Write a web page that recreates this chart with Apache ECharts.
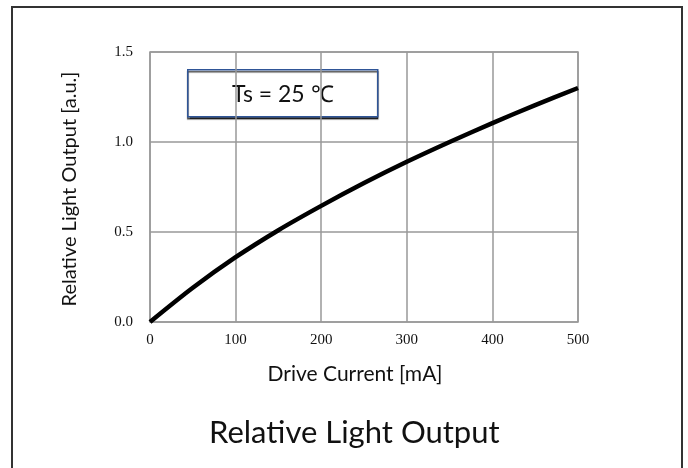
<!DOCTYPE html>
<html>
<head>
<meta charset="utf-8">
<script src="https://cdn.jsdelivr.net/npm/echarts@6/dist/echarts.min.js"></script>
<style>
html,body{margin:0;padding:0;background:#fff;}
#main{width:688px;height:468px;}
</style>
</head>
<body>
<div id="main"></div>
<script>
// Data
const driveCurrent = [0, 50, 100, 150, 200, 250, 300, 350, 400, 450, 500];
const relativeOutput = [0, 0.19, 0.36, 0.51, 0.645, 0.772, 0.89, 1.0, 1.105, 1.205, 1.30];
const xTicks = [0, 100, 200, 300, 400, 500];
const yTicks = [0.0, 0.5, 1.0, 1.5];
const chartTitle = 'Relative Light Output';
const xName = 'Drive Current [mA]';
const yName = 'Relative Light Output [a.u.]';
const annotation = 'Ts = 25 \u2103';

const points = driveCurrent.map((x, i) => [x, relativeOutput[i]]);
const sans = 'Lato, "Open Sans", sans-serif';
const serif = '"Liberation Serif", "DejaVu Serif", serif';

const chart = echarts.init(document.getElementById('main'));
chart.setOption({
  backgroundColor: '#fff',
  animation: false,
  title: {
    text: chartTitle,
    left: 204,
    top: 412,
    textStyle: { fontFamily: sans, fontSize: 31, fontWeight: 'normal', color: '#111' }
  },
  grid: { left: 150, right: 110, top: 52, bottom: 146, show: true, borderColor: '#999', borderWidth: 1.5 },
  xAxis: {
    type: 'value',
    min: xTicks[0], max: xTicks[xTicks.length - 1], interval: 100,
    axisLine: { show: false },
    axisTick: { show: false },
    axisLabel: { fontFamily: serif, fontSize: 15, color: '#111', margin: 11 },
    splitLine: { show: true, lineStyle: { color: '#999', width: 1.5 } }
  },
  yAxis: {
    type: 'value',
    min: yTicks[0], max: yTicks[yTicks.length - 1], interval: 0.5,
    axisLine: { show: false },
    axisTick: { show: false },
    axisLabel: { fontFamily: serif, fontSize: 15, color: '#111', margin: 17,
      formatter: v => v.toFixed(1) },
    splitLine: { show: true, lineStyle: { color: '#999', width: 1.5 } }
  },
  graphic: [
    {
      type: 'rect', left: 11, top: 6,
      shape: { width: 670, height: 470 },
      style: { fill: 'transparent', stroke: '#333', lineWidth: 2 },
      silent: true
    },
    {
      type: 'text', x: 70, y: 189, rotation: Math.PI / 2,
      style: { text: yName, fontFamily: sans, fontSize: 20, fill: '#111', align: 'center', verticalAlign: 'middle' }
    },
    {
      type: 'text', x: 355, y: 374,
      style: { text: xName, fontFamily: sans, fontSize: 21, fill: '#111', align: 'center', verticalAlign: 'middle' }
    },
    {
      type: 'group', left: 187, top: 69,
      children: [
        { type: 'rect', shape: { x: 0, y: 0, width: 190, height: 47 },
          style: { fill: '#fff', stroke: '#2f5597', lineWidth: 1.5,
            shadowBlur: 1, shadowColor: 'rgba(0,0,0,0.7)', shadowOffsetY: 2, shadowOffsetX: 0 } },
        { type: 'text', x: 95, y: 25,
          style: { text: annotation, fontFamily: sans, fontSize: 23, fill: '#111', align: 'center', verticalAlign: 'middle' } }
      ]
    }
  ],
  series: [{
    type: 'line',
    data: points,
    smooth: 0.3,
    symbol: 'none',
    lineStyle: { color: '#000', width: 4.5 },
    z: 5
  }]
});
</script>
</body>
</html>
